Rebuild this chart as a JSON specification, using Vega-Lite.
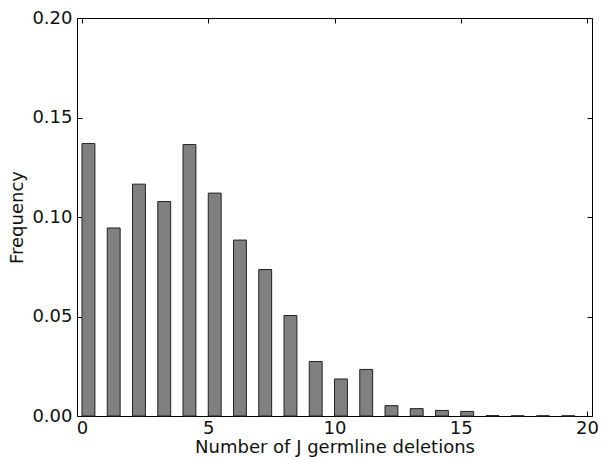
{
  "$schema": "https://vega.github.io/schema/vega-lite/v6.json",
  "width": 515,
  "height": 398,
  "autosize": {"type": "none"},
  "padding": {"left": 77, "top": 18, "right": 14, "bottom": 44},
  "background": "white",
  "config": {
    "view": {"stroke": "#000000", "strokeWidth": 1},
    "font": "DejaVu Sans",
    "axis": {
      "domain": false,
      "grid": false,
      "tickColor": "#000000",
      "tickSize": -5,
      "labelFont": "DejaVu Sans",
      "labelFontSize": 18,
      "labelColor": "#111111",
      "titleFont": "DejaVu Sans",
      "titleFontSize": 18,
      "titleFontWeight": "normal",
      "titleColor": "#111111"
    }
  },
  "data": {
    "values": [
      {"k": 0, "f": 0.1369},
      {"k": 1, "f": 0.0945},
      {"k": 2, "f": 0.1165},
      {"k": 3, "f": 0.1078},
      {"k": 4, "f": 0.1364},
      {"k": 5, "f": 0.1120},
      {"k": 6, "f": 0.0884},
      {"k": 7, "f": 0.0736},
      {"k": 8, "f": 0.0505},
      {"k": 9, "f": 0.0274},
      {"k": 10, "f": 0.0186},
      {"k": 11, "f": 0.0234},
      {"k": 12, "f": 0.0052},
      {"k": 13, "f": 0.0037},
      {"k": 14, "f": 0.0028},
      {"k": 15, "f": 0.0023},
      {"k": 16, "f": 0.0002},
      {"k": 17, "f": 0.0001},
      {"k": 18, "f": 0.0001},
      {"k": 19, "f": 0.0001}
    ]
  },
  "layer": [
    {
      "mark": {"type": "bar", "fill": "#808080", "stroke": "#222222", "strokeWidth": 1, "width": 12.9, "xOffset": 6.45},
      "encoding": {
        "x": {
          "field": "k", "type": "quantitative",
          "scale": {"domain": [0, 20], "nice": false, "zero": false},
          "axis": {"orient": "bottom", "values": [0, 5, 10, 15, 20], "format": "d", "title": "Number of J germline deletions", "labelPadding": 8, "titlePadding": 1}
        },
        "y": {
          "field": "f", "type": "quantitative",
          "scale": {"domain": [0, 0.2], "nice": false},
          "axis": {"orient": "left", "values": [0, 0.05, 0.1, 0.15, 0.2], "format": ".2f", "title": "Frequency", "labelPadding": 10, "titlePadding": 5}
        },
        "y2": {"datum": 0}
      }
    },
    {
      "mark": {"type": "bar", "opacity": 0, "width": 12.9, "xOffset": 6.45},
      "encoding": {
        "x": {
          "field": "k", "type": "quantitative",
          "scale": {"domain": [0, 20], "nice": false, "zero": false},
          "axis": {"orient": "top", "values": [0, 5, 10, 15, 20], "labels": false, "title": null}
        },
        "y": {
          "field": "f", "type": "quantitative",
          "scale": {"domain": [0, 0.2], "nice": false},
          "axis": {"orient": "right", "values": [0, 0.05, 0.1, 0.15, 0.2], "labels": false, "title": null}
        },
        "y2": {"datum": 0}
      }
    }
  ],
  "resolve": {"axis": {"x": "independent", "y": "independent"}}
}
